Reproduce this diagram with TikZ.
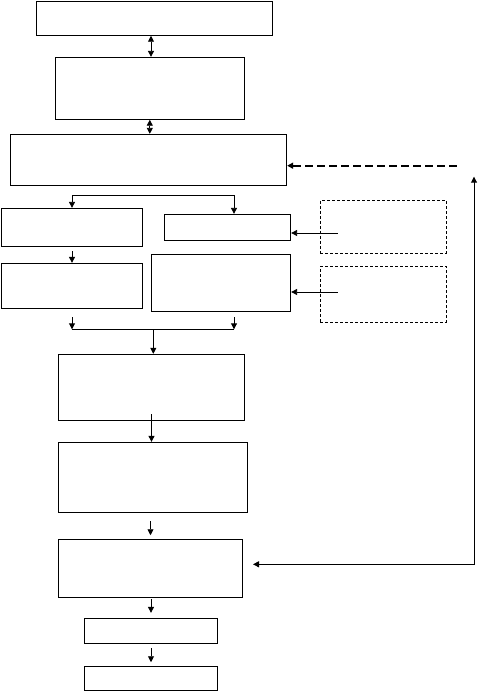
\documentclass[tikz,border=0pt]{standalone}
\usepackage{amsmath}
\usepackage{tikz}
\usetikzlibrary{positioning}
\usetikzlibrary{arrows.meta}
\tikzset{>={Triangle[length=6pt,width=6pt]}}
\tikzset{box/.style={draw,line width=0.9pt,inner sep=0pt}}
\tikzset{dbox/.style={draw,dash pattern=on 3pt off 2pt,line width=0.7pt,inner sep=0pt}}

\begin{document}
\begin{tikzpicture}[x=1pt,y=-1pt,line width=0.9pt]
\useasboundingbox (0,0) rectangle (478,692);
\node[box,minimum width=236pt,minimum height=34pt] (x1) at (154.3,18.3){};
\node[box,minimum width=189pt,minimum height=62pt] (x2) at (149.8,88.3){};
\node[box,minimum width=276.4pt,minimum height=51pt] (x3) at (148.5,159.8){};
\node[box,minimum width=141.4pt,minimum height=38pt] (x4) at (72,227.3){};
\node[box,minimum width=126.4pt,minimum height=26.4pt] (x5) at (227.5,227.5){};
\node[dbox,minimum width=125.7pt,minimum height=53pt] (f1) at (383.2,226.8){};
\node[box,minimum width=141.4pt,minimum height=45pt] (x6) at (72,285.8){};
\node[box,minimum width=139.4pt,minimum height=57pt] (x7) at (221,282.8){};
\node[dbox,minimum width=125.7pt,minimum height=56pt] (f2) at (383.2,294.3){};
\node[box,minimum width=186.4pt,minimum height=66pt] (x9) at (151.5,387.3){};
\node[box,minimum width=189.4pt,minimum height=70pt] (x10) at (153,477.3){};
\node[box,minimum width=184.4pt,minimum height=58pt] (x11) at (150.5,568.3){};
\node[box,minimum width=133.4pt,minimum height=25pt] (x12) at (151,630.8){};
\node[box,minimum width=133.4pt,minimum height=24pt] (x13) at (151,678.3){};

\draw[<->] (x1.south -| 151,0) -- (x2.north -| 151,0);
\draw[<->] (x2.south) -- (x2.south |- x3.north);

\coordinate (s1) at (72,195.3);
\coordinate (s2) at (234,195.3);
\draw (s1) -- (s2);
\draw[->] (s1) -- (s1 |- x4.north);
\draw[->] (s2) -- (s2 |- x5.north);
\draw[->,shorten <=4.7pt] (x4.south) -- (x6.north);

\coordinate (p1) at (337.7,233);
\coordinate (p2) at (337.7,292);
\draw[->] (p1) -- (p1 -| x5.east);
\draw[->] (p2) -- (p2 -| x7.east);

\coordinate (m1) at (72,329.3);
\coordinate (m2) at (234,329.3);
\coordinate (m3) at (153.3,329.3);
\draw[->,shorten <=8.4pt] (x6.south) -- (m1);
\draw[->,shorten <=5.4pt] (m2 |- x7.south) -- (m2);
\draw (m1) -- (m2);
\draw[->] (m3) -- (m3 |- x9.north);

\draw[->] ([yshift=6.3pt]x9.south) -- (x9.south |- x10.north);
\draw[->,shorten <=8.7pt,shorten >=3.6pt] (x11.north |- x10.south) -- (x11.north);
\draw[->,shorten <=1.7pt,shorten >=5pt] (x12.north |- x11.south) -- (x12.north);
\draw[->,shorten <=4.7pt,shorten >=3.6pt] (x12.south) -- (x13.north);

\coordinate (r1) at (474,564.3);
\coordinate (r2) at (474,176.7);
\coordinate (r3) at (253,564.3);
\draw[<->] (r3) -- (r1) -- (r2);

\coordinate (q1) at (456.7,165.7);
\draw[->,line width=2pt,dash pattern=on 8pt off 4pt] (q1) -- (q1 -| x3.east);
\end{tikzpicture}
\end{document}
